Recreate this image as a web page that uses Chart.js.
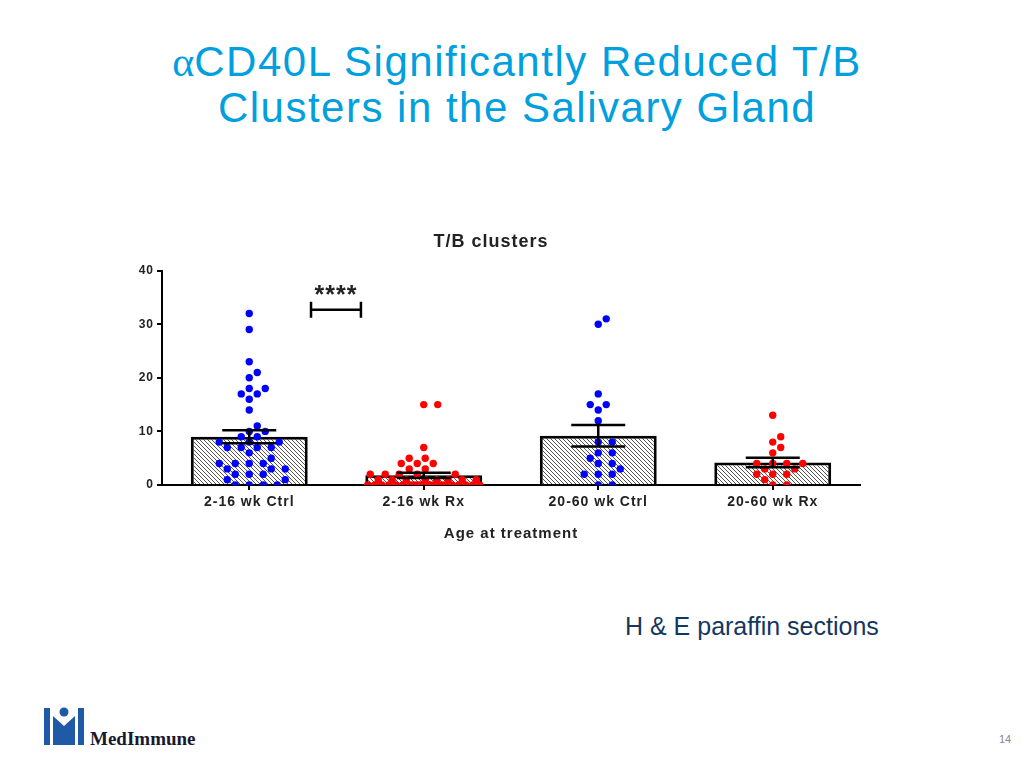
<!DOCTYPE html>
<html lang="en">
<head>
<meta charset="utf-8">
<title>T/B clusters</title>
<script src="https://cdn.jsdelivr.net/npm/chart.js@4.4.1/dist/chart.umd.min.js"></script>
<style>
    body { margin: 0; background: #fff; width: 1024px; height: 768px; position: relative; overflow: hidden; font-family: "Liberation Sans", Arial, sans-serif; }
    .slide-title { position: absolute; top: 39px; left: 0; width: 1034px; text-align: center; color: #00a0de; font-size: 42px; line-height: 46px; letter-spacing: 1.5px; }
    .slide-title .alpha { font-family: "Liberation Serif", serif; letter-spacing: 0; }
    .chart-box { position: absolute; left: 100px; top: 220px; width: 822px; height: 330px; }
    .note { position: absolute; left: 625px; top: 612px; color: #14375f; font-size: 25px; }
    .page { position: absolute; left: 999px; top: 733px; color: #888; font-size: 11px; }
    .logo { position: absolute; left: 40px; top: 704px; }
</style>
</head>
<body>
    <div class="slide-title"><span class="alpha">α</span>CD40L Significantly Reduced T/B<br>Clusters in the Salivary Gland</div>
    <div class="chart-box"><canvas id="tbChart" width="822" height="330"></canvas></div>
    <div class="note">H &amp; E paraffin sections</div>
    <div class="page">14</div>
    <svg class="logo" width="170" height="48" viewBox="0 0 170 48">
        <rect x="4" y="4" width="6" height="37" fill="#1f5aa6"/>
        <rect x="38" y="4" width="6" height="37" fill="#1f5aa6"/>
        <circle cx="24" cy="8" r="4.5" fill="#1f5aa6"/>
        <path d="M13 12 L24 22 L35 12 L35 41 L13 41 Z" fill="#1f5aa6"/>
        <text x="50" y="41" font-family="Liberation Serif, serif" font-weight="bold" font-size="19" fill="#1a1a2e">MedImmune</text>
    </svg>

<script>
// groups along the x axis
var categories = ["2-16 wk Ctrl", "2-16 wk Rx", "20-60 wk Ctrl", "20-60 wk Rx"];

// individual animals (clusters per gland)
var ctrlYoung = [32, 29, 23, 21, 20, 18, 18, 17, 17, 16, 14, 11, 10, 10, 9, 9, 8, 8, 8, 7, 7, 7, 7, 6, 5, 4, 4, 4, 4, 3, 3, 3, 2, 2, 2, 1, 1, 0, 0, 0, 0];
var rxYoung = [15, 15, 7, 5, 5, 4, 4, 4, 3, 3, 2, 2, 2, 2, 2, 1, 1, 1, 1, 1, 1, 1, 1, 0, 0, 0, 0, 0, 0, 0, 0, 0, 0, 0, 0, 0, 0, 0, 0, 0, 0, 0, 0, 0, 0];
var ctrlOld = [31, 30, 17, 15, 15, 14, 12, 8, 8, 6, 6, 5, 4, 4, 3, 2, 2, 2, 0, 0];
var rxOld = [13, 9, 8, 7, 6, 4, 4, 4, 4, 3, 3, 2, 2, 2, 1, 0, 0];

// bar height (mean) and error bar (SEM)
var means = [9.0, 1.8, 9.2, 4.2];
var sems = [1.2, 0.5, 2.0, 0.9];

var yTicks = [0, 10, 20, 30, 40];
var sigLabel = "****";

// simple beeswarm so points with the same value spread sideways like prism does
function swarm(values, center) {
    var pxX = 174.5, pxY = 214 / 40, d = 14, maxHalf = 56;
    var placed = [];
    var sorted = values.slice().sort(function(a, b) { return a - b; });
    return sorted.map(function(v) {
        var py = v * pxY;
        var best = 0, bestGap = -1;
        for (var k = 0; ; k++) {
            var off = (k % 2 ? 1 : -1) * Math.ceil(k / 2) * 0.5;
            if (Math.abs(off) > maxHalf) break;
            var gap = Infinity;
            for (var j = 0; j < placed.length; j++) {
                var dx = placed[j].x - off, dy = (placed[j].y - py) * 2.2;
                gap = Math.min(gap, Math.sqrt(dx * dx + dy * dy));
            }
            if (gap >= d) { best = off; bestGap = gap; break; }
            if (gap > bestGap) { bestGap = gap; best = off; }
        }
        placed.push({ x: best, y: py });
        return { x: center + best / pxX, y: v };
    });
}

// hatch fill for the bars
var pc = document.createElement("canvas");
pc.width = 4; pc.height = 4;
var g = pc.getContext("2d");
g.fillStyle = "#fff";
g.fillRect(0, 0, 4, 4);
g.strokeStyle = "#555";
g.lineWidth = 1;
g.beginPath();
g.moveTo(-1, -1); g.lineTo(5, 5);
g.moveTo(-1, 3); g.lineTo(1, 5);
g.moveTo(3, -1); g.lineTo(5, 1);
g.stroke();
var hatch = g.createPattern(pc, "repeat");

var spacing = {
    id: "spacing",
    beforeUpdate: function(chart) { chart.ctx.letterSpacing = "1px"; },
    beforeDraw: function(chart) { chart.ctx.letterSpacing = "1px"; }
};

var extras = {
    id: "extras",
    afterDatasetsDraw: function(chart) {
        var ctx = chart.ctx, x = chart.scales.x2, y = chart.scales.y;
        ctx.save();
        ctx.strokeStyle = "#000";
        ctx.lineWidth = 2.5;
        means.forEach(function(m, i) {
            var cx = x.getPixelForValue(i), hw = 27;
            var top = y.getPixelForValue(m + sems[i]);
            var bot = y.getPixelForValue(Math.max(0, m - sems[i]));
            ctx.beginPath();
            ctx.moveTo(cx, top); ctx.lineTo(cx, bot);
            ctx.moveTo(cx - hw, top); ctx.lineTo(cx + hw, top);
            ctx.moveTo(cx - hw, bot); ctx.lineTo(cx + hw, bot);
            ctx.stroke();
        });
        // significance bracket between the two young groups
        var x1 = x.getPixelForValue(0.354), x2 = x.getPixelForValue(0.64);
        var yb = y.getPixelForValue(32.7);
        ctx.beginPath();
        ctx.moveTo(x1, yb - 8); ctx.lineTo(x1, yb + 8);
        ctx.moveTo(x1, yb); ctx.lineTo(x2, yb);
        ctx.moveTo(x2, yb - 8); ctx.lineTo(x2, yb + 8);
        ctx.stroke();
        ctx.fillStyle = "#222";
        ctx.font = "bold 25px 'Liberation Sans', Arial, sans-serif";
        ctx.textAlign = "center";
        ctx.textBaseline = "middle";
        ctx.fillText(sigLabel, (x1 + x2) / 2, y.getPixelForValue(35.3));
        ctx.restore();
    }
};

function dots(values, i, color) {
    return {
        type: "scatter",
        xAxisID: "x2",
        data: swarm(values, i),
        pointRadius: 3.7,
        pointBorderWidth: 0,
        pointBackgroundColor: color,
        order: 1
    };
}

var fam = "'Liberation Sans', Arial, sans-serif";

new Chart(document.getElementById("tbChart"), {
    type: "bar",
    data: {
        labels: categories,
        datasets: [
            {
                data: means,
                backgroundColor: hatch,
                borderColor: "#000",
                borderWidth: 3,
                barPercentage: 0.67,
                categoryPercentage: 1,
                grouped: false,
                order: 2
            },
            dots(ctrlYoung, 0, "#0000ff"),
            dots(rxYoung, 1, "#ff0000"),
            dots(ctrlOld, 2, "#0000ff"),
            dots(rxOld, 3, "#ff0000")
        ]
    },
    options: {
        responsive: false,
        animation: false,
        layout: { padding: { left: 22, right: 62, top: 1, bottom: 0 } },
        plugins: {
            legend: { display: false },
            tooltip: { enabled: false },
            title: {
                display: true,
                text: "T/B clusters",
                color: "#222",
                font: { family: fam, size: 18, weight: "bold" },
                padding: { top: 10, bottom: 18 }
            }
        },
        scales: {
            x: {
                type: "category",
                offset: true,
                grid: { offset: false, drawOnChartArea: false, tickLength: 5, color: "#000", lineWidth: 2 },
                border: { color: "#000", width: 2 },
                ticks: { color: "#222", font: { family: fam, size: 14, weight: "bold" }, padding: 4 },
                title: { display: true, text: "Age at treatment", color: "#222", font: { family: fam, size: 15, weight: "bold" }, padding: { top: 6, bottom: 7 } },
                afterFit: function(s) { s.height = 65; }
            },
            x2: { type: "linear", min: -0.5, max: 3.5, offset: false, display: false },
            y: {
                min: 0,
                max: 40,
                afterBuildTicks: function(s) { s.ticks = yTicks.map(function(v) { return { value: v }; }); },
                grid: { drawOnChartArea: false, tickLength: 5, color: "#000", lineWidth: 2 },
                border: { color: "#000", width: 2 },
                ticks: { color: "#222", font: { family: fam, size: 12, weight: "bold" }, padding: 3 },
                afterFit: function(s) { s.width = 40; }
            }
        }
    },
    plugins: [spacing, extras]
});
</script>
</body>
</html>
